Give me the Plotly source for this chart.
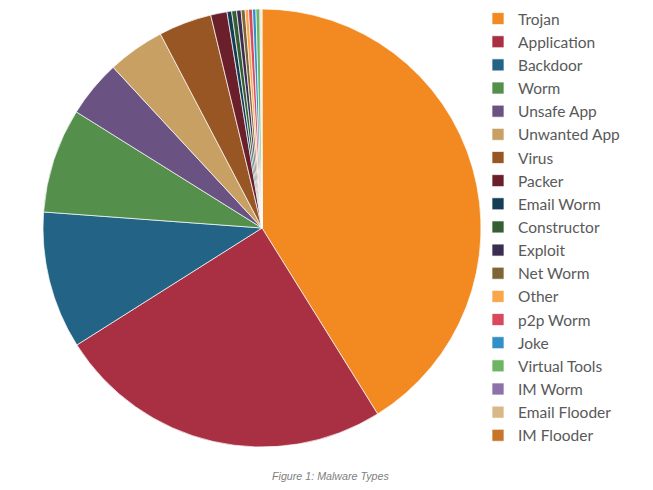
import plotly.graph_objects as go

categories = ["Trojan", "Application", "Backdoor", "Worm", "Unsafe App", "Unwanted App",
              "Virus", "Packer", "Email Worm", "Constructor", "Exploit", "Net Worm",
              "Other", "p2p Worm", "Joke", "Virtual Tools", "IM Worm", "Email Flooder",
              "IM Flooder"]
shares = [41.0, 24.8, 10.1, 7.7, 4.2, 4.2, 3.9, 1.2, 0.34, 0.36, 0.33, 0.29,
          0.25, 0.29, 0.25, 0.29, 0.06, 0.05, 0.04]
colors = ["#F28A21", "#A93043", "#236386", "#548F4C", "#6A5283", "#C8A063",
          "#975623", "#6A1F2B", "#143E56", "#365E33", "#3B2D4F", "#7F6436",
          "#F9A64A", "#D9485C", "#3190C8", "#6DB565", "#8E71AA", "#D8B888",
          "#C8742A"]

W, H = 653, 490
cx, cy, r = 262, 228, 219

fig = go.Figure(go.Pie(
    labels=categories, values=shares, sort=False, direction="clockwise", rotation=0,
    marker=dict(colors=colors, line=dict(color="white", width=0.7)),
    textinfo="none", hoverinfo="label+percent",
    domain=dict(x=[(cx - r) / W, (cx + r) / W], y=[1 - (cy + r) / H, 1 - (cy - r) / H]),
))

fig.update_layout(
    width=W, height=H, margin=dict(l=0, r=0, t=0, b=0),
    paper_bgcolor="white", plot_bgcolor="white",
    showlegend=True,
    legend=dict(x=478 / W, y=1 - 2 / H, xanchor="left", yanchor="top",
                font=dict(family="Lato", size=15.5, color="#595959"),
                bgcolor="rgba(0,0,0,0)", itemwidth=30, traceorder="normal"),
    annotations=[dict(text="<i>Figure 1: Malware Types</i>", x=330 / W, y=1 - 476 / H,
                      xref="paper", yref="paper", xanchor="center", yanchor="middle",
                      showarrow=False,
                      font=dict(family="Liberation Sans", size=10.7, color="#7F7F7F"))],
)

fig.write_html("out.html")
